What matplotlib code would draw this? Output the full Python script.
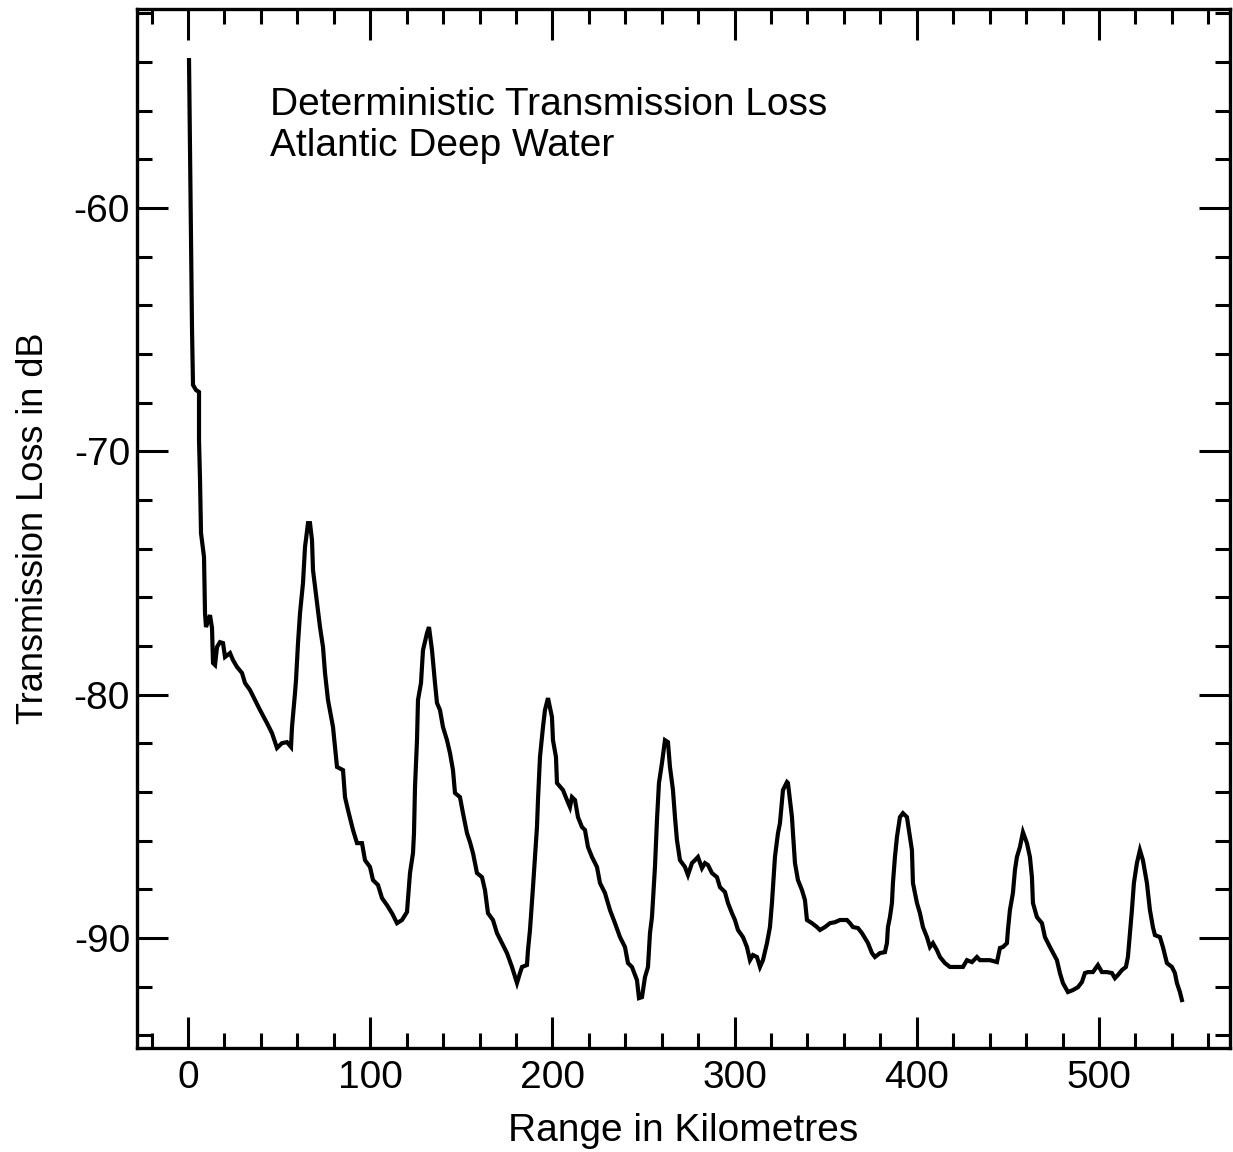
import matplotlib
matplotlib.use("Agg")
import matplotlib.pyplot as plt
from matplotlib.ticker import MultipleLocator

plt.rcParams['font.family'] = ['Liberation Sans', 'DejaVu Sans']
plt.rcParams['axes.unicode_minus'] = False

# Range in km
range_km = [0.55, 1.10, 1.65, 2.20, 2.74, 4.39, 6.04, 6.04, 6.59, 7.13, 8.78, 9.33,
    9.88, 12.07, 13.17, 13.72, 14.82, 15.92, 17.56, 19.21, 20.31, 23.05, 24.70, 26.89,
    29.64, 31.28, 34.03, 36.77, 39.51, 43.36, 46.10, 48.84, 51.59, 54.33, 56.53, 57.07,
    58.72, 59.27, 60.37, 61.47, 63.11, 64.21, 65.86, 66.96, 68.05, 68.60, 70.80, 72.44,
    74.09, 75.19, 76.83, 79.58, 81.77, 85.07, 86.16, 87.81, 90.55, 92.75, 95.49, 97.14,
    99.88, 101.53, 104.27, 106.47, 109.21, 111.96, 114.70, 117.44, 120.19, 121.83, 123.48,
    124.03, 124.58, 125.68, 126.22, 127.87, 128.97, 131.16, 132.26, 133.91, 135.55, 136.65,
    138.30, 139.94, 142.14, 143.79, 145.43, 146.53, 149.27, 150.92, 153.12, 154.76, 156.41,
    158.60, 161.35, 162.99, 164.64, 167.38, 169.58, 172.32, 175.07, 177.81, 180.56, 182.20,
    183.30, 186.04, 186.59, 187.69, 189.34, 190.43, 191.53, 192.08, 193.18, 194.83, 195.92,
    197.57, 199.76, 200.31, 201.96, 202.51, 205.80, 208.00, 209.64, 210.74, 212.39, 214.03,
    216.23, 217.87, 219.52, 221.72, 224.46, 226.11, 228.85, 231.59, 234.34, 237.08, 239.83,
    241.47, 243.67, 246.41, 247.51, 249.16, 250.80, 252.45, 253.55, 254.64, 256.29, 257.39,
    258.48, 260.13, 261.78, 263.42, 264.52, 266.17, 267.27, 268.36, 270.01, 272.75, 274.40,
    276.60, 278.24, 279.89, 282.08, 283.73, 285.38, 287.57, 290.32, 291.96, 294.71, 296.35,
    298.55, 300.19, 301.84, 304.58, 306.78, 308.43, 310.07, 312.27, 313.92, 315.56, 317.76,
    319.40, 320.50, 321.05, 322.15, 323.80, 324.89, 326.54, 328.74, 329.28, 331.48, 332.03,
    333.13, 334.77, 336.97, 338.61, 339.71, 342.46, 345.20, 346.85, 349.59, 352.33, 355.08,
    357.82, 361.66, 363.31, 364.95, 367.70, 369.89, 371.54, 373.19, 375.38, 377.03, 379.77,
    382.51, 383.61, 384.16, 385.26, 386.36, 386.90, 388.00, 389.10, 390.75, 392.39, 394.59,
    396.23, 397.33, 397.88, 400.08, 401.72, 403.37, 405.56, 407.21, 408.86, 411.05, 412.70,
    415.44, 418.19, 422.03, 425.32, 427.52, 430.26, 433.00, 434.65, 437.39, 440.14, 443.98,
    445.63, 447.27, 449.47, 450.02, 451.11, 452.76, 453.86, 454.95, 456.60, 458.25, 460.44,
    462.09, 463.19, 463.74, 465.93, 468.68, 470.32, 473.07, 476.91, 478.55, 480.20, 482.94,
    485.69, 488.43, 490.63, 492.27, 493.92, 496.66, 499.40, 501.60, 504.34, 507.09, 508.74,
    510.38, 512.58, 514.77, 515.87, 516.97, 518.07, 519.16, 520.81, 522.46, 524.10, 526.30,
    527.95, 529.59, 530.69, 533.43, 535.08, 537.27, 540.02, 541.66, 542.76, 544.41, 545.51]

# Transmission loss in dB
loss_db = [-53.92, -57.62, -61.73, -65.01, -67.27, -67.48, -67.56, -69.54, -71.18, -73.36, -74.34, -76.65,
    -77.22, -76.73, -77.26, -78.70, -78.78, -78.04, -77.84, -77.88, -78.45, -78.29, -78.58, -78.86,
    -79.11, -79.52, -79.81, -80.22, -80.63, -81.17, -81.58, -82.19, -81.99, -81.95, -82.15, -81.33,
    -79.93, -79.40, -77.88, -76.65, -75.41, -73.93, -72.95, -72.95, -73.65, -74.88, -76.23, -77.22,
    -78.04, -79.11, -80.22, -81.33, -82.97, -83.10, -84.21, -84.74, -85.56, -86.10, -86.10, -86.80,
    -87.08, -87.62, -87.82, -88.36, -88.65, -88.98, -89.39, -89.26, -88.93, -87.33, -86.51,
    -85.69, -83.80, -81.87, -80.22, -79.52, -78.17, -77.47, -77.22, -78.17, -79.52, -80.34,
    -80.63, -81.33, -81.87, -82.40, -83.10, -84.04, -84.21, -84.87, -85.69, -86.06, -86.51,
    -87.33, -87.50, -88.03, -88.98, -89.26, -89.80, -90.21, -90.62, -91.19, -91.85, -91.44,
    -91.19, -91.11, -90.50, -89.67, -87.91, -86.67, -85.44, -84.33, -82.56, -81.33, -80.63,
    -80.14, -80.92, -81.87, -82.56, -83.63, -83.92, -84.33, -84.62, -84.21, -84.33, -85.03,
    -85.44, -85.56, -86.26, -86.67, -87.08, -87.74, -88.15, -88.85, -89.39, -89.96, -90.37,
    -91.03, -91.19, -91.73, -92.47, -92.43, -91.61, -91.19, -89.80, -89.14, -87.08, -85.15,
    -83.63, -82.81, -81.87, -81.95, -82.97, -83.92, -85.03, -85.98, -86.80, -87.08, -87.41,
    -86.92, -86.80, -86.67, -87.13, -86.92, -87.00, -87.33, -87.50, -87.91, -88.11, -88.56,
    -88.98, -89.26, -89.67, -89.96, -90.37, -90.91, -90.70, -90.78, -91.19, -90.91, -90.21,
    -89.55, -88.56, -87.91, -86.67, -85.69, -85.28, -83.92, -83.59, -83.63, -85.03, -85.69,
    -86.92, -87.62, -88.03, -88.44, -89.26, -89.39, -89.55, -89.67, -89.55, -89.39, -89.35,
    -89.26, -89.26, -89.39, -89.55, -89.59, -89.80, -90.00, -90.21, -90.62, -90.78, -90.62,
    -90.58, -90.21, -89.55, -89.14, -88.56, -87.74, -86.67, -85.85, -85.03, -84.87, -85.03,
    -85.85, -86.39, -87.74, -88.56, -88.98, -89.55, -89.96, -90.37, -90.21, -90.50, -90.78,
    -91.03, -91.19, -91.19, -91.19, -90.91, -90.99, -90.78, -90.91, -90.91, -90.91, -90.99,
    -90.41, -90.37, -90.21, -89.67, -88.85, -88.15, -87.21, -86.67, -86.26, -85.65, -86.10,
    -86.67, -87.50, -88.56, -89.14, -89.39, -89.96, -90.37, -90.91, -91.44, -91.85, -92.22,
    -92.14, -92.02, -91.81, -91.44, -91.40, -91.40, -91.11, -91.40, -91.40, -91.44, -91.65,
    -91.52, -91.32, -91.19, -90.78, -89.80, -88.85, -87.74, -86.92, -86.39, -86.80, -87.74,
    -88.85, -89.55, -89.88, -89.96, -90.37, -91.03, -91.19, -91.44, -91.85, -92.22, -92.55]

x_label = "Range in Kilometres"
y_label = "Transmission Loss in dB"
title_lines = ["Deterministic Transmission Loss", "Atlantic Deep Water"]

fig = plt.figure(figsize=(12.33, 11.52), dpi=100)
ax = fig.add_axes([137/1233, 1 - 1048/1152, (1230 - 137)/1233, (1048 - 9)/1152])

ax.plot(range_km, loss_db, color='black', linewidth=3.0, solid_joinstyle='miter')

ax.set_xlim(-28.0, 571.9)
ax.set_ylim(-94.52, -51.82)

ax.xaxis.set_major_locator(MultipleLocator(100))
ax.xaxis.set_minor_locator(MultipleLocator(20))
ax.yaxis.set_major_locator(MultipleLocator(10))
ax.yaxis.set_minor_locator(MultipleLocator(2))

ax.tick_params(which='both', direction='in', top=True, right=True, width=2.2,
               color='black', labelsize=28)
ax.tick_params(axis='x', pad=9)
ax.tick_params(axis='y', pad=5)
ax.tick_params(which='major', length=22)
ax.tick_params(which='minor', length=11)
for s in ax.spines.values():
    s.set_linewidth(2.4)

ax.set_xlabel(x_label, fontsize=28, labelpad=12)
ax.set_ylabel(y_label, fontsize=26, labelpad=16)

ax.text(0.1217, 0.898, title_lines[0], transform=ax.transAxes, fontsize=28,
        ha='left', va='baseline')
ax.text(0.1217, 0.8585, title_lines[1], transform=ax.transAxes, fontsize=28,
        ha='left', va='baseline')

fig.savefig("out.png", dpi=100)
